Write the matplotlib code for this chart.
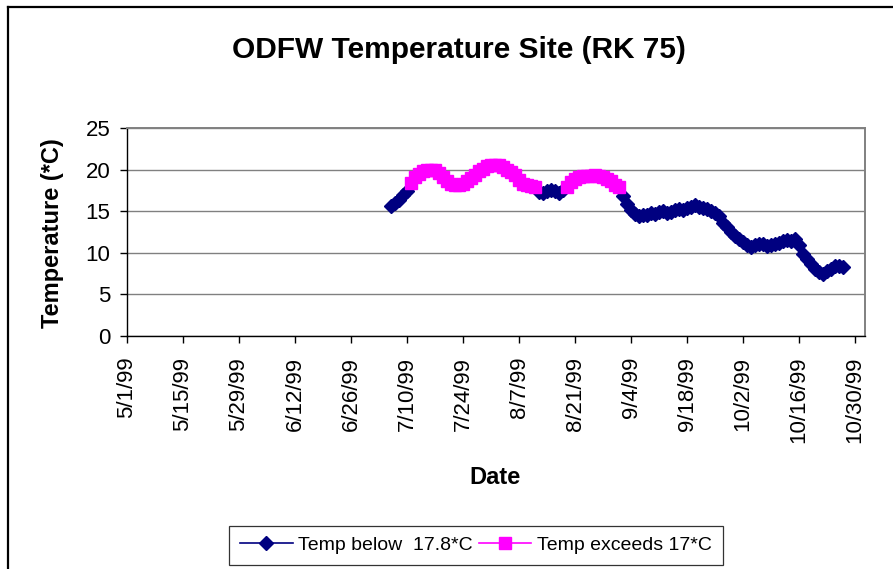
import numpy as np
import pandas as pd
import matplotlib
matplotlib.use("Agg")
import matplotlib.pyplot as plt
import matplotlib.dates as mdates
from matplotlib.lines import Line2D

plt.rcParams['font.family'] = ['Liberation Sans', 'DejaVu Sans']

# Daily water temperature (*C), starting 7/6/99
start_date = "1999-07-06"
temps = [
    15.6, 16.0, 16.4, 16.9, 17.4, 18.4, 19.1, 19.5, 19.8, 20.0,
    20.0, 19.9, 19.6, 19.1, 18.6, 18.3, 18.2, 18.2, 18.3, 18.6,
    19.0, 19.4, 19.8, 20.1, 20.4, 20.6, 20.6, 20.5, 20.3, 20.0,
    19.7, 19.3, 18.8, 18.3, 18.1, 18.0, 17.9, 17.3, 17.2, 17.4,
    17.6, 17.4, 17.2, 17.5, 17.9, 18.5, 18.9, 19.1, 19.2, 19.2,
    19.2, 19.3, 19.2, 19.1, 18.9, 18.6, 18.2, 17.9, 16.8, 15.9,
    15.2, 14.7, 14.4, 14.5, 14.6, 14.8, 14.7, 14.9, 15.0, 14.8,
    14.9, 15.1, 15.3, 15.2, 15.4, 15.5, 15.7, 15.5, 15.4, 15.3,
    15.0, 14.8, 14.4, 13.6, 13.1, 12.5, 12.0, 11.6, 11.3, 10.9,
    10.7, 10.9, 11.1, 11.0, 10.8, 10.9, 11.1, 11.2, 11.4, 11.5,
    11.4, 11.6, 10.9, 9.9, 9.2, 8.6, 8.1, 7.7, 7.4, 7.8,
    8.1, 8.4, 8.4, 8.3,
]
threshold = 17.8

series_labels = ["Temp below  17.8*C", "Temp exceeds 17*C"]
tick_dates = ["1999-05-01", "1999-05-15", "1999-05-29", "1999-06-12",
              "1999-06-26", "1999-07-10", "1999-07-24", "1999-08-07",
              "1999-08-21", "1999-09-04", "1999-09-18", "1999-10-02",
              "1999-10-16", "1999-10-30"]
tick_labels = ["5/1/99", "5/15/99", "5/29/99", "6/12/99", "6/26/99",
               "7/10/99", "7/24/99", "8/7/99", "8/21/99", "9/4/99",
               "9/18/99", "10/2/99", "10/16/99", "10/30/99"]
y_ticks = [0, 5, 10, 15, 20, 25]

dates = pd.date_range(start_date, periods=len(temps), freq="D")
t = np.array(temps, dtype=float)
below = np.where(t < threshold, t, np.nan)
above = np.where(t >= threshold, t, np.nan)

W, H = 893, 569
fig = plt.figure(figsize=(W / 100, H / 100), dpi=100)
fig.patch.set_facecolor("white")

# outer chart frame
fig.add_artist(Line2D([8 / W, 8 / W], [0, 1 - 7 / H], transform=fig.transFigure,
                      color="black", lw=1.6))
fig.add_artist(Line2D([8 / W, 1], [1 - 7 / H, 1 - 7 / H], transform=fig.transFigure,
                      color="black", lw=1.6))

ax = fig.add_axes([127 / W, 1 - 336 / H, 738 / W, 208 / H])

navy, magenta = "#000080", "#FF00FF"
h1, = ax.plot(dates, below, color=navy, lw=1.2, marker="D", ms=7.5,
              mfc=navy, mec=navy, label=series_labels[0], zorder=3)
h2, = ax.plot(dates, above, color=magenta, lw=1.2, marker="s", ms=9,
              mfc=magenta, mec=magenta, label=series_labels[1], zorder=4)

x0 = mdates.date2num(pd.Timestamp("1999-05-01"))
ax.set_xlim(x0, x0 + 184.5)
ax.set_ylim(0, 25)
ax.set_yticks(y_ticks)
ax.set_xticks(mdates.date2num(pd.to_datetime(tick_dates)))
ax.set_xticklabels(tick_labels, rotation=90)

ax.yaxis.grid(True, color="#808080", lw=1.0)
ax.set_axisbelow(True)
for s in ("top", "right"):
    ax.spines[s].set_color("#808080")
    ax.spines[s].set_linewidth(1.4)
for s in ("left", "bottom"):
    ax.spines[s].set_color("black")
    ax.spines[s].set_linewidth(1.0)

ax.tick_params(axis="y", direction="out", length=5, width=1, labelsize=16, pad=7)
ax.tick_params(axis="x", direction="out", length=5, width=1, labelsize=16, pad=10)

fig.text(459 / W, 1 - 50 / H, "ODFW Temperature Site (RK 75)", ha="center",
         va="center", fontsize=21.5, fontweight="bold")
fig.text(53 / W, 1 - 233 / H, "Temperature (*C)", ha="center", va="center",
         rotation=90, fontsize=17, fontweight="bold")
fig.text(495 / W, 1 - 477 / H, "Date", ha="center", va="center",
         fontsize=17, fontweight="bold")

leg = fig.legend(handles=[h1, h2], loc="center", ncol=2,
                 bbox_to_anchor=(476 / W, 1 - 545 / H), fontsize=14,
                 frameon=True, fancybox=False, edgecolor="black",
                 handlelength=2.7, handletextpad=0.3, columnspacing=0.3,
                 borderpad=0.55, borderaxespad=0)
leg.get_frame().set_linewidth(0.9)

fig.savefig("out.png", dpi=100, facecolor="white")
